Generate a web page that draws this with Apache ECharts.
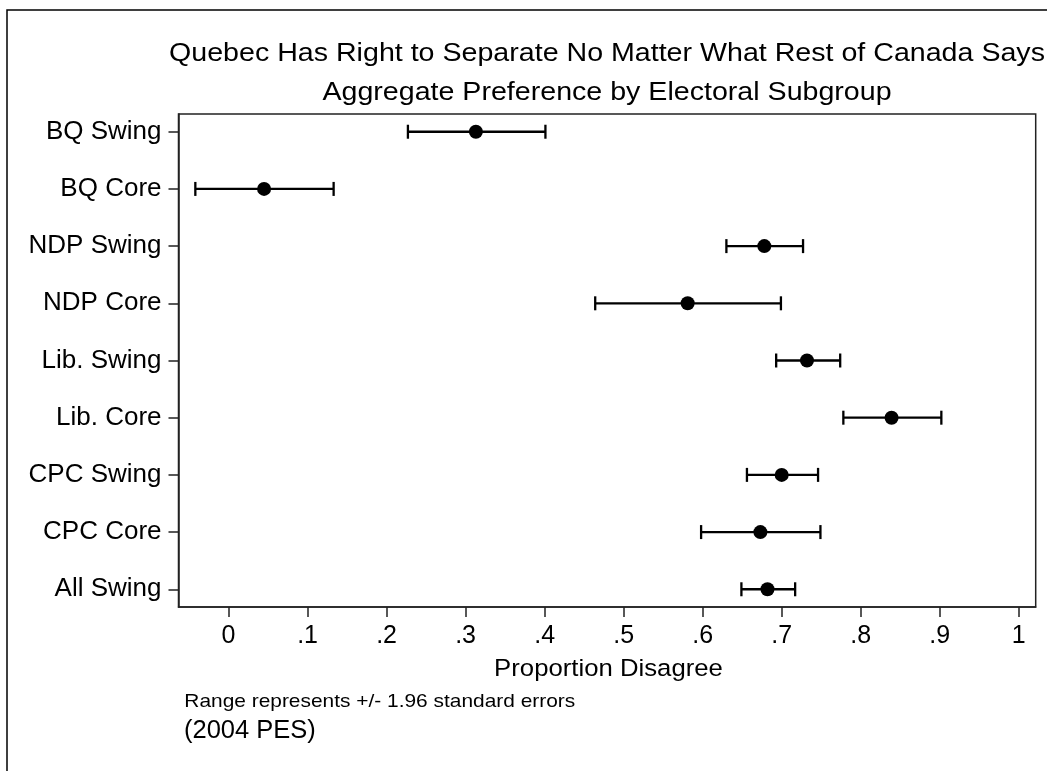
<!DOCTYPE html>
<html>
<head>
<meta charset="utf-8">
<script src="https://cdn.jsdelivr.net/npm/echarts@6/dist/echarts.min.js"></script>
<style>
html,body{margin:0;padding:0;background:#fff;}
#chart{width:1047px;height:771px;}
</style>
</head>
<body>
<div id="chart"></div>
<script>
// ---- Data ----
const categories = ['BQ Swing','BQ Core','NDP Swing','NDP Core','Lib. Swing','Lib. Core','CPC Swing','CPC Core','All Swing'];
const means = [0.313, 0.045, 0.678, 0.581, 0.732, 0.839, 0.700, 0.673, 0.682];
const lower = [0.227, -0.042, 0.630, 0.464, 0.693, 0.778, 0.656, 0.598, 0.649];
const upper = [0.401, 0.133, 0.727, 0.699, 0.774, 0.902, 0.746, 0.749, 0.717];
const xTickValues = [0, 0.1, 0.2, 0.3, 0.4, 0.5, 0.6, 0.7, 0.8, 0.9, 1];
const xTickLabels = ['0', '.1', '.2', '.3', '.4', '.5', '.6', '.7', '.8', '.9', '1'];
const titleLines = ['Quebec Has Right to Separate No Matter What Rest of Canada Says', 'Aggregate Preference by Electoral Subgroup'];
const xAxisTitle = 'Proportion Disagree';
const notes = ['Range represents +/- 1.96 standard errors', '(2004 PES)'];

const FONT = '"Liberation Sans", Arial, Helvetica, sans-serif';
const catIdx = categories.map((c, i) => i);
const barData = categories.map((c, i) => [i, lower[i], upper[i]]);
const dotData = categories.map((c, i) => [means[i], i]);

const chart = echarts.init(document.getElementById('chart'), null, {renderer: 'canvas'});
const axisColor = '#222';

const option = {
  backgroundColor: '#fff',
  animation: false,
  grid: {
    left: 178.5, top: 114, right: 11.3, bottom: 164,
    show: true, borderColor: axisColor, borderWidth: 1.5, backgroundColor: 'transparent',
    containLabel: false
  },
  xAxis: {
    type: 'value', min: -0.0633, max: 1.0214,
    splitLine: {show: false},
    axisLine: {show: true, onZero: false, lineStyle: {color: axisColor, width: 1.5}},
    axisTick: {show: true, length: 10, customValues: xTickValues, lineStyle: {color: axisColor, width: 1.5}},
    axisLabel: {
      show: true, customValues: xTickValues, margin: 29, verticalAlign: 'middle',
      fontFamily: FONT, fontSize: 25, color: '#000',
      formatter: function (v) {
        let best = 0, bd = 1e9;
        xTickValues.forEach((t, i) => { const d = Math.abs(t - v); if (d < bd) { bd = d; best = i; } });
        return xTickLabels[best];
      }
    }
  },
  yAxis: {
    type: 'value', min: -0.31, max: 8.31, inverse: true,
    splitLine: {show: false},
    axisLine: {show: true, onZero: false, lineStyle: {color: axisColor, width: 1.5}},
    axisTick: {show: true, length: 10, customValues: catIdx, lineStyle: {color: axisColor, width: 1.5}},
    axisLabel: {
      show: true, customValues: catIdx, margin: 17,
      fontFamily: FONT, fontSize: 26, color: '#000',
      formatter: function (v) { return categories[Math.round(v)]; }
    }
  },
  series: [
    {
      type: 'custom',
      data: barData,
      encode: {x: [1, 2], y: 0},
      renderItem: function (params, api) {
        const y = api.value(0), lo = api.value(1), hi = api.value(2);
        const p1 = api.coord([lo, y]);
        const p2 = api.coord([hi, y]);
        const h = 7;
        const st = {stroke: '#000', lineWidth: 2.3};
        return {
          type: 'group',
          children: [
            {type: 'line', shape: {x1: p1[0], y1: p1[1], x2: p2[0], y2: p2[1]}, style: st},
            {type: 'line', shape: {x1: p1[0], y1: p1[1] - h, x2: p1[0], y2: p1[1] + h}, style: st},
            {type: 'line', shape: {x1: p2[0], y1: p2[1] - h, x2: p2[0], y2: p2[1] + h}, style: st}
          ]
        };
      },
      z: 2
    },
    {
      type: 'scatter',
      data: dotData,
      symbol: 'circle',
      symbolSize: 14,
      itemStyle: {color: '#000', opacity: 1},
      z: 3
    }
  ],
  graphic: [
    {type: 'rect', shape: {x: 7, y: 10, width: 1200, height: 900}, style: {fill: 'none', stroke: '#000', lineWidth: 1.5}, silent: true, z: -1},
    {type: 'text', x: 607, y: 54, scaleX: 1.1, style: {text: titleLines[0], x: 0, y: 0, align: 'center', verticalAlign: 'middle', font: '26px ' + FONT, fill: '#000'}},
    {type: 'text', x: 607, y: 92.5, scaleX: 1.1, style: {text: titleLines[1], x: 0, y: 0, align: 'center', verticalAlign: 'middle', font: '26px ' + FONT, fill: '#000'}},
    {type: 'text', x: 608.5, y: 669.5, scaleX: 1.05, style: {text: xAxisTitle, x: 0, y: 0, align: 'center', verticalAlign: 'middle', font: '24.5px ' + FONT, fill: '#000'}},
    {type: 'text', x: 184.3, y: 701.7, scaleX: 1.1, style: {text: notes[0], x: 0, y: 0, align: 'left', verticalAlign: 'middle', font: '19px ' + FONT, fill: '#000'}},
    {type: 'text', x: 184, y: 731, style: {text: notes[1], x: 0, y: 0, align: 'left', verticalAlign: 'middle', font: '25.5px ' + FONT, fill: '#000'}}
  ]
};
chart.setOption(option);
</script>
</body>
</html>
